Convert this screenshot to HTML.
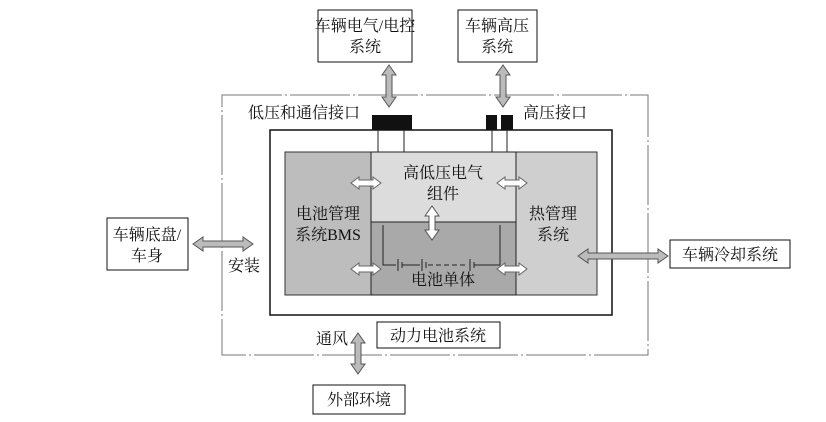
<!DOCTYPE html><html><head><meta charset="utf-8"><style>
body{margin:0;background:#fff}
svg text{font-family:"Liberation Serif","Noto Serif CJK SC",serif;font-size:16px;fill:#111}
</style></head><body>
<svg width="826" height="417" viewBox="0 0 826 417" xmlns="http://www.w3.org/2000/svg">
<defs>
<g id="ah"><path d="M0,0 l8,-6 v3 h14 v-3 l8,6 l-8,6 v-3 h-14 v3 z" fill="#fff" stroke="#666" stroke-width="1"/></g>
</defs>
<rect x="222" y="95" width="426" height="260" fill="none" stroke="#777" stroke-width="1" stroke-dasharray="60,3,2,3"/>
<rect x="270" y="130" width="342" height="185" fill="#fff" stroke="#111" stroke-width="1.5"/>
<rect x="285" y="152" width="86" height="143" fill="#bdbdbd" stroke="#333"/>
<rect x="516" y="152" width="81" height="143" fill="#cfcfcf" stroke="#333"/>
<rect x="371" y="152" width="145" height="70" fill="#dcdcdc" stroke="#222"/>
<rect x="371" y="222" width="145" height="73" fill="#a9a9a9" stroke="#222"/>
<rect x="372" y="115" width="40" height="15" fill="#111"/>
<rect x="486" y="115" width="11" height="15" fill="#111"/>
<rect x="501" y="115" width="12" height="15" fill="#111"/>
<g stroke="#222" stroke-width="1" fill="none">
<line x1="378" y1="130" x2="378" y2="152"/><line x1="404" y1="130" x2="404" y2="152"/>
<line x1="492" y1="130" x2="492" y2="152"/><line x1="507" y1="130" x2="507" y2="152"/>
<path d="M383,225 v40 h13 M500,225 v40 h-12"/>
<line x1="398" y1="259" x2="398" y2="271"/><line x1="402" y1="262" x2="402" y2="268"/>
<line x1="402" y1="265" x2="420" y2="265"/>
<line x1="422" y1="259" x2="422" y2="271"/><line x1="426" y1="262" x2="426" y2="268"/>
<line x1="428" y1="265" x2="468" y2="265" stroke-dasharray="5,3"/>
<line x1="470" y1="259" x2="470" y2="271"/><line x1="474" y1="262" x2="474" y2="268"/>
<line x1="474" y1="265" x2="488" y2="265"/>
</g>
<rect x="318" y="10" width="94" height="52" fill="#fff" stroke="#111"/>
<rect x="458" y="10" width="79" height="52" fill="#fff" stroke="#111"/>
<rect x="107" y="218" width="81" height="52" fill="#fff" stroke="#111"/>
<rect x="670" y="240" width="120" height="28" fill="#fff" stroke="#111"/>
<rect x="313" y="385" width="92" height="29" fill="#fff" stroke="#111"/>
<rect x="377" y="322" width="123" height="26" fill="#fff" stroke="#111"/>
<path d="M389,65 l-7,10 h4 v22 h-4 l7,10 l7,-10 h-4 v-22 h4 z" fill="#bbb" stroke="#555"/>
<path d="M503,65 l-7,10 h4 v22 h-4 l7,10 l7,-10 h-4 v-22 h4 z" fill="#bbb" stroke="#555"/>
<path d="M358,333 l-7,10 h4 v21 h-4 l7,10 l7,-10 h-4 v-21 h4 z" fill="#bbb" stroke="#555"/>
<path d="M432,206 l-7,10 h4 v14 h-4 l7,10 l7,-10 h-4 v-14 h4 z" fill="#fff" stroke="#555"/>
<path d="M193,244 l10,-7 v4 h40 v-4 l10,7 l-10,7 v-4 h-40 v4 z" fill="#bbb" stroke="#555"/>
<path d="M578,256 l10,-7 v4 h70 v-4 l10,7 l-10,7 v-4 h-70 v4 z" fill="#bbb" stroke="#555"/>
<use href="#ah" x="351" y="183"/><use href="#ah" x="497" y="183"/>
<use href="#ah" x="351" y="269"/><use href="#ah" x="497" y="269"/>
<text x="365" y="31" text-anchor="middle">车辆电气/电控</text>
<text x="365" y="52" text-anchor="middle">系统</text>
<text x="497" y="31" text-anchor="middle">车辆高压</text>
<text x="497" y="52" text-anchor="middle">系统</text>
<text x="147" y="240" text-anchor="middle">车辆底盘/</text>
<text x="147" y="261" text-anchor="middle">车身</text>
<text x="730" y="260" text-anchor="middle">车辆冷却系统</text>
<text x="359" y="405" text-anchor="middle">外部环境</text>
<text x="438" y="341" text-anchor="middle">动力电池系统</text>
<text x="248" y="118">低压和通信接口</text>
<text x="523" y="118">高压接口</text>
<text x="228" y="271">安装</text>
<text x="316" y="344">通风</text>
<text x="443" y="178" text-anchor="middle">高低压电气</text>
<text x="443" y="199" text-anchor="middle">组件</text>
<text x="328" y="219" text-anchor="middle">电池管理</text>
<text x="328" y="240" text-anchor="middle">系统BMS</text>
<text x="553" y="219" text-anchor="middle">热管理</text>
<text x="553" y="240" text-anchor="middle">系统</text>
<text x="443" y="285" text-anchor="middle">电池单体</text>
</svg>
</body></html>
